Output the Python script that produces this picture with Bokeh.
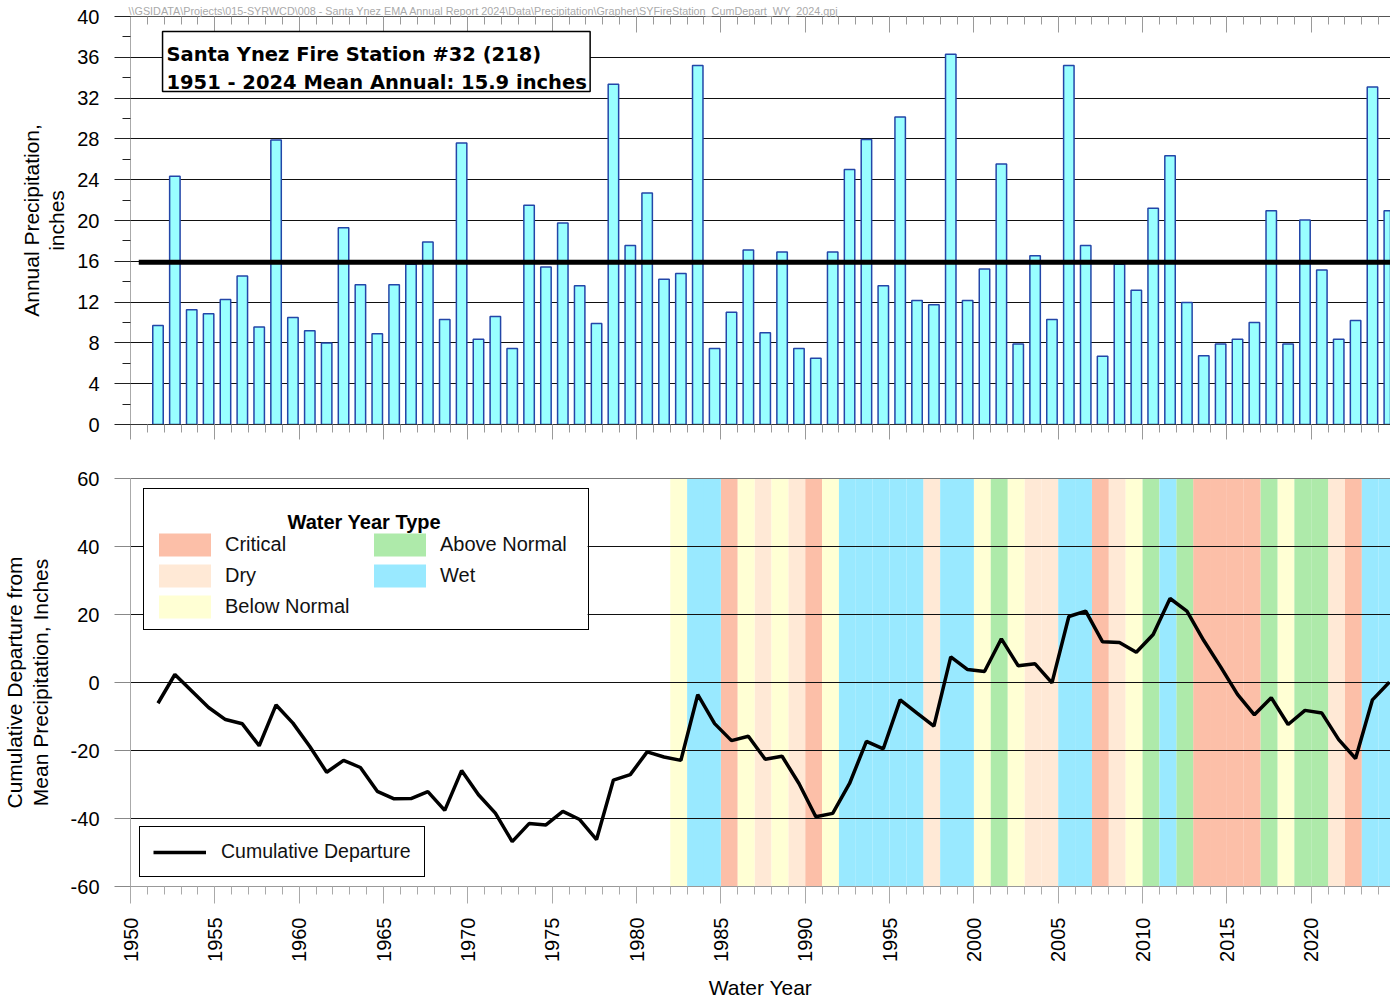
import math
from bokeh.plotting import figure
from bokeh.models import (FixedTicker, LinearAxis, Legend, LegendItem, Label,
                          Range1d, BoxAnnotation, CustomJSTickFormatter)
from bokeh.layouts import column
from bokeh.embed import file_html
from bokeh.resources import INLINE

# ---------------- data ----------------
years = list(range(1951, 2025))
precip = [
    9.7, 24.35, 11.25, 10.85, 12.25, 14.55, 9.55, 27.9, 10.5, 9.2,      # 1951-1960
    8.0, 19.3, 13.7, 8.9, 13.7, 15.7, 17.9, 10.3, 27.6, 8.35,           # 1961-1970
    10.6, 7.45, 21.5, 15.45, 19.75, 13.6, 9.9, 33.35, 17.55, 22.7,      # 1971-1980
    14.25, 14.8, 35.2, 7.45, 11.0, 17.1, 9.0, 16.9, 7.45, 6.5,          # 1981-1990
    16.9, 25.0, 27.95, 13.6, 30.15, 12.15, 11.75, 36.3, 12.15, 15.25,   # 1991-2000
    25.55, 7.9, 16.55, 10.3, 35.2, 17.55, 6.7, 15.7, 13.15, 21.2,       # 2001-2010
    26.35, 11.95, 6.75, 7.9, 8.35, 10.0, 20.95, 7.9, 20.05, 15.15,      # 2011-2020
    8.35, 10.2, 33.1, 20.95,                                            # 2021-2024
]
cum_departure = [
    -6.1, 2.35, -2.5, -7.35, -10.9, -12.15, -18.6, -6.6, -11.95, -18.8,
    -26.4, -22.9, -25.0, -32.0, -34.2, -34.15, -32.1, -37.6, -25.9, -33.0,
    -38.4, -46.8, -41.5, -41.9, -37.9, -40.3, -46.2, -28.7, -27.1, -20.4,
    -21.9, -22.9, -3.6, -12.1, -17.1, -15.8, -22.6, -21.7, -29.7, -39.5,
    -38.5, -29.7, -17.3, -19.5, -5.1, -9.0, -12.85, 7.55, 3.8, 3.25,
    12.85, 4.9, 5.5, -0.1, 19.4, 21.0, 11.95, 11.75, 8.9, 14.1,
    24.7, 21.0, 12.35, 4.6, -3.5, -9.5, -4.5, -12.35, -8.2, -9.0,
    -16.8, -22.35, -5.1, 0.1,
]
mean_annual = 15.9

wy_years = list(range(1982, 2025))
wy_types = [
    "BN", "W", "W", "C", "BN", "D", "BN", "D", "C", "BN",        # 1982-1991
    "W", "W", "W", "W", "W", "D", "W", "W", "BN", "AN",          # 1992-2001
    "BN", "D", "D", "W", "W", "C", "D", "BN", "AN", "W",         # 2002-2011
    "AN", "C", "C", "C", "C", "AN", "BN", "AN", "AN", "D",       # 2012-2021
    "C", "W", "W",                                               # 2022-2024
]
type_codes = ["C", "D", "BN", "AN", "W"]
type_names = ["Critical", "Dry", "Below Normal", "Above Normal", "Wet"]
type_colors = ["#FCBFA8", "#FFE9D6", "#FFFFD4", "#AEEAAA", "#99E9FF"]

major_years = list(range(1950, 2030, 5))
minor_years = list(range(1950, 2026))
precip_ticks = list(range(0, 41, 4))
dep_ticks = list(range(-60, 61, 20))

title_line1 = "Santa Ynez Fire Station #32 (218)"
title_line2 = "1951 - 2024 Mean Annual: 15.9 inches"
file_path = ("\\\\GSIDATA\\Projects\\015-SYRWCD\\008 - Santa Ynez EMA Annual Report 2024"
             "\\Data\\Precipitation\\Grapher\\SYFireStation_CumDepart_WY_2024.gpj")

# ---------------- styling ----------------
FONT = "Liberation Sans"
W = 1390
X0, X1 = 1950, 2024.7
X_OFF = 0.63          # where an annual value sits inside its year interval
BAR_W = 0.62

xs = [y + X_OFF for y in years]


def hidden_label_axis(ax):
    ax.formatter = CustomJSTickFormatter(code="return ''")
    ax.major_label_text_font_size = "1px"
    ax.major_label_standoff = 0


# ================= top chart: annual precipitation =================
p1 = figure(width=W, height=454, x_range=Range1d(X0, X1), y_range=Range1d(0, 40),
            output_backend="svg", toolbar_location=None,
            min_border_left=129, min_border_right=0, min_border_top=16, min_border_bottom=30)
p1.outline_line_color = None
p1.background_fill_color = "white"
p1.border_fill_color = "white"
p1.xgrid.visible = False
p1.ygrid.grid_line_color = "#111111"
p1.ygrid.grid_line_width = 1

p1.title.text = file_path
p1.title.text_font = FONT
p1.title.text_font_size = "10.8px"
p1.title.text_font_style = "normal"
p1.title.text_color = "#AAAAAA"
p1.title.align = "left"
p1.title.standoff = 0
p1.title.offset = -2

xa = p1.xaxis[0]
xa.ticker = FixedTicker(ticks=major_years, minor_ticks=minor_years)
xa.major_tick_in = 0
xa.major_tick_out = 15
xa.minor_tick_in = 0
xa.minor_tick_out = 8
xa.major_tick_line_color = "#9A9A9A"
xa.minor_tick_line_color = "#9A9A9A"
xa.axis_line_color = "#333333"
hidden_label_axis(xa)

top_ax = LinearAxis(ticker=FixedTicker(ticks=major_years, minor_ticks=minor_years),
                    major_tick_in=16, major_tick_out=0, minor_tick_in=8, minor_tick_out=0,
                    major_tick_line_color="#9A9A9A", minor_tick_line_color="#9A9A9A",
                    axis_line_color="#555555")
hidden_label_axis(top_ax)
p1.add_layout(top_ax, "above")

ya = p1.yaxis[0]
ya.ticker = FixedTicker(ticks=precip_ticks, minor_ticks=list(range(0, 41, 2)))
ya.major_tick_in = 0
ya.major_tick_out = 16
ya.minor_tick_in = 0
ya.minor_tick_out = 8
ya.major_tick_line_color = "#222222"
ya.minor_tick_line_color = "#222222"
ya.axis_line_color = "#AAAAAA"
ya.major_label_text_font = FONT
ya.major_label_text_font_size = "20px"
ya.major_label_text_color = "black"
ya.major_label_standoff = 15
ya.axis_label = "Annual Precipitation,\ninches"
ya.axis_label_text_font = FONT
ya.axis_label_text_font_size = "21px"
ya.axis_label_text_font_style = "normal"
ya.axis_label_text_line_height = 1.1
ya.axis_label_text_color = "black"
ya.axis_label_standoff = 6

p1.vbar(x=xs, width=BAR_W, top=precip, bottom=0,
        fill_color="#99FFFF", line_color="#2346A8", line_width=1.5)
p1.line(x=[1950.49, 2026], y=[mean_annual, mean_annual], line_width=5, line_color="black")

p1.add_layout(BoxAnnotation(left=1951.90, right=1977.25, top=38.53, bottom=32.65,
                            fill_color="white", fill_alpha=1.0,
                            line_color="black", line_width=1.5, line_alpha=1.0))
for txt, yy in ((title_line1, 36.27), (title_line2, 33.56)):
    p1.add_layout(Label(x=1952.13, y=yy, text=txt, text_font="DejaVu Sans",
                        text_font_style="bold", text_font_size="19.5px",
                        text_color="black", text_baseline="alphabetic", text_align="left"))

# ================= bottom chart: cumulative departure =================
p2 = figure(width=W, height=548, x_range=Range1d(X0, X1), y_range=Range1d(-60, 60),
            output_backend="svg", toolbar_location=None,
            min_border_left=129, min_border_right=0, min_border_top=24, min_border_bottom=116)
p2.outline_line_color = None
p2.background_fill_color = "white"
p2.border_fill_color = "white"
p2.xgrid.visible = False
p2.ygrid.grid_line_color = "#111111"
p2.ygrid.grid_line_width = 1

band_renderers = []
for code, color in zip(type_codes, type_colors):
    lefts = [y for y, t in zip(wy_years, wy_types) if t == code]
    r = p2.quad(left=lefts, right=[v + 1 for v in lefts], bottom=-60, top=60,
                fill_color=color, line_color=None, level="image")
    band_renderers.append(r)

line_r = p2.line(x=xs, y=cum_departure, line_width=3.5, line_color="black")

xb = p2.xaxis[0]
xb.ticker = FixedTicker(ticks=major_years, minor_ticks=minor_years)
xb.major_tick_in = 0
xb.major_tick_out = 17
xb.minor_tick_in = 0
xb.minor_tick_out = 8
xb.major_tick_line_color = "#AAAAAA"
xb.minor_tick_line_color = "#AAAAAA"
xb.axis_line_color = "#999999"
xb.major_label_orientation = math.pi / 2
xb.major_label_text_font = FONT
xb.major_label_text_font_size = "20px"
xb.major_label_text_color = "black"
xb.major_label_standoff = 14
xb.axis_label = "Water Year"
xb.axis_label_text_font = FONT
xb.axis_label_text_font_size = "21px"
xb.axis_label_text_font_style = "normal"
xb.axis_label_text_color = "black"
xb.axis_label_standoff = 11

top_ax2 = LinearAxis(ticker=FixedTicker(ticks=[]), major_tick_in=0, major_tick_out=0,
                     minor_tick_in=0, minor_tick_out=0, axis_line_color="#777777")
hidden_label_axis(top_ax2)
p2.add_layout(top_ax2, "above")

yb = p2.yaxis[0]
yb.ticker = FixedTicker(ticks=dep_ticks, minor_ticks=[])
yb.major_label_overrides = {v: str(v) for v in dep_ticks}
yb.major_tick_in = 0
yb.major_tick_out = 16
yb.minor_tick_in = 0
yb.minor_tick_out = 0
yb.major_tick_line_color = "#888888"
yb.axis_line_color = "#AAAAAA"
yb.major_label_text_font = FONT
yb.major_label_text_font_size = "20px"
yb.major_label_text_color = "black"
yb.major_label_standoff = 15
yb.axis_label = "Cumulative Departure from\nMean Precipitation, Inches"
yb.axis_label_text_font = FONT
yb.axis_label_text_font_size = "21px"
yb.axis_label_text_font_style = "normal"
yb.axis_label_text_line_height = 1.1
yb.axis_label_text_color = "black"
yb.axis_label_standoff = 16

# white backing for the water-year-type legend (legend itself is transparent so that
# its centred title, drawn as a label, stays visible)
p2.add_layout(BoxAnnotation(left=1950.78, right=1977.1, top=56.75, bottom=15.3,
                            fill_color="white", fill_alpha=1.0, line_color=None))
p2.add_layout(Label(x=1963.86, y=47.35, text="Water Year Type", text_font=FONT,
                    text_font_style="bold", text_font_size="20px", text_color="black",
                    text_align="center", text_baseline="alphabetic"))

leg1 = Legend(items=[LegendItem(label=n, renderers=[r]) for n, r in zip(type_names, band_renderers)],
              location=(13, 256), nrows=3, title=" ", title_text_font=FONT,
              title_text_font_size="20px", title_standoff=10,
              glyph_width=65, glyph_height=29, label_standoff=8, label_height=20,
              label_width=140, spacing=2, padding=8, margin=0,
              label_text_font=FONT, label_text_font_size="20px", label_text_color="#111111",
              border_line_color="black", border_line_width=1.5, border_line_alpha=1.0,
              background_fill_alpha=0.0)
p2.add_layout(leg1, "center")

leg2 = Legend(items=[LegendItem(label="Cumulative Departure", renderers=[line_r])],
              location=(9, 9), glyph_width=53, glyph_height=22, label_standoff=15,
              label_height=20, padding=13, margin=0,
              label_text_font=FONT, label_text_font_size="19.5px", label_text_color="#111111",
              border_line_color="black", border_line_width=1.5, border_line_alpha=1.0,
              background_fill_color="white", background_fill_alpha=1.0)
p2.add_layout(leg2, "center")

layout = column(p1, p2, spacing=0)
open("out.html", "w").write(file_html(layout, INLINE))
